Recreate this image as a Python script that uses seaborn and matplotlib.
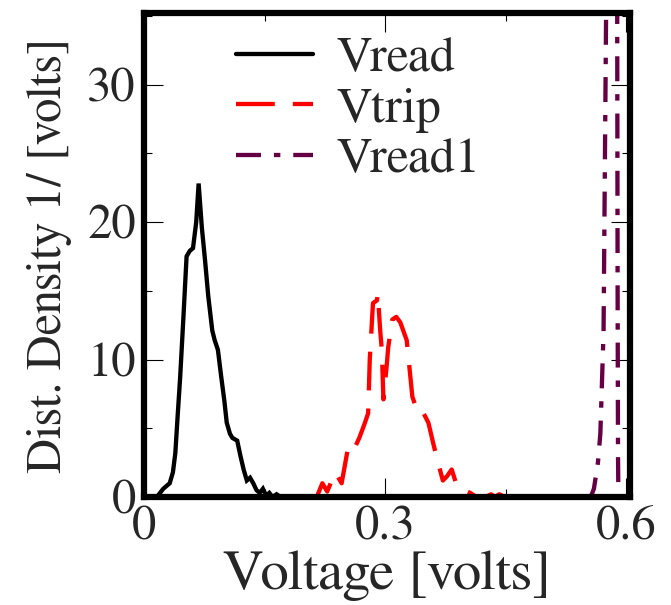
import matplotlib
matplotlib.use("Agg")
import matplotlib.pyplot as plt
import seaborn as sns
import pandas as pd
from matplotlib.ticker import MultipleLocator

# Distribution densities of the read / trip voltages
vread_x = [0.012, 0.016, 0.024, 0.032, 0.036, 0.039, 0.042, 0.045, 0.049, 0.053,
           0.057, 0.061, 0.065, 0.068, 0.072, 0.076, 0.080, 0.085, 0.088, 0.092,
           0.096, 0.100, 0.103, 0.107, 0.110, 0.116, 0.120, 0.124, 0.128, 0.132,
           0.136, 0.140, 0.144, 0.148, 0.152, 0.156, 0.160, 0.165, 0.170]
vread_y = [0.0, 0.0, 0.6, 1.0, 1.8, 3.2, 6.0, 8.7, 13.0, 17.5,
           17.9, 18.1, 20.0, 22.8, 19.6, 17.2, 14.6, 12.1, 11.4, 10.7,
           8.8, 7.0, 5.4, 4.6, 4.3, 4.1, 3.0, 2.0, 1.2, 1.4,
           1.0, 0.5, 0.3, 0.6, 0.1, 0.3, 0.0, 0.2, 0.0]

vtrip_x = [0.208, 0.215, 0.222, 0.228, 0.238, 0.246, 0.254, 0.260, 0.268, 0.275,
           0.279, 0.281, 0.285, 0.290, 0.291, 0.294, 0.296, 0.298, 0.302, 0.304,
           0.309, 0.314, 0.319, 0.327, 0.334, 0.341, 0.347, 0.354, 0.360, 0.366,
           0.372, 0.377, 0.383, 0.390, 0.398, 0.406, 0.414, 0.425, 0.432, 0.437,
           0.442, 0.450]
vtrip_y = [0.0, 0.0, 1.0, 0.4, 1.8, 1.0, 3.6, 3.3, 4.3, 5.4,
           6.1, 10.0, 14.1, 14.3, 14.8, 12.1, 10.7, 7.1, 9.5, 10.9,
           12.9, 13.1, 12.7, 11.4, 7.3, 6.1, 6.2, 5.4, 3.9, 2.5,
           1.2, 1.5, 2.0, 0.7, 0.5, 0.3, 0.0, 0.0, 0.2, 0.0,
           0.2, 0.0]

vread1_x = [0.550, 0.556, 0.560, 0.565, 0.568, 0.572, 0.575, 0.578, 0.582, 0.586,
            0.589, 0.5895, 0.590, 0.5905, 0.595]
vread1_y = [0.0, 0.0, 0.6, 2.5, 4.6, 12.0, 34.0, 55.0, 70.0, 55.0,
            35.0, 15.0, 3.0, 0.0, 0.0]

x_ticks = [0, 0.3, 0.6]
x_tick_labels = ["0", "0.3", "0.6"]
y_ticks = [0, 10, 20, 30]

sns.set_theme(style="ticks")
SERIF = "FreeSerif"
plt.rcParams["font.family"] = "serif"
plt.rcParams["font.serif"] = [SERIF, "Liberation Serif", "DejaVu Serif"]

fig = plt.figure(figsize=(6.71, 6.05), dpi=100)
ax = fig.add_axes([0.2146, 0.1785, 0.7244, 0.8000])

series = [
    ("Vread", vread_x, vread_y, "black", None),
    ("Vtrip", vtrip_x, vtrip_y, "#ff0000", (9.0, 4.2)),
    ("Vread1", vread1_x, vread1_y, "#660044", (5.8, 3.0, 1.5, 3.0)),
]
for name, xs, ys, col, dash in series:
    df = pd.DataFrame({"x": xs, "y": ys})
    sns.lineplot(data=df, x="x", y="y", ax=ax, color=col, linewidth=3.1,
                 label=name, estimator=None, sort=False)
    line = ax.get_lines()[-1]
    if dash is not None:
        line.set_dashes(dash)
    line.set_solid_joinstyle("miter")

ax.set_xlim(0, 0.605)
ax.set_ylim(0, 35.2)
ax.set_xticks(x_ticks)
ax.set_xticklabels(x_tick_labels)
ax.set_yticks(y_ticks)
ax.xaxis.set_minor_locator(MultipleLocator(0.15))
ax.yaxis.set_minor_locator(MultipleLocator(5))

for s in ax.spines.values():
    s.set_linewidth(4.5)
    s.set_color("black")
    s.set_visible(True)

ax.tick_params(which="both", direction="in", top=True, right=True,
               color="black", width=0.8)
ax.tick_params(which="major", length=13.5, labelsize=35, pad=6)
ax.tick_params(which="minor", length=5.8)
for lab in ax.get_xticklabels() + ax.get_yticklabels():
    lab.set_fontfamily(SERIF)

ax.set_xlabel("Voltage [volts]", fontsize=41, labelpad=0, fontfamily=SERIF)
ax.set_ylabel("Dist. Density 1/ [volts]", fontsize=35, labelpad=11, fontfamily=SERIF)

leg = ax.legend(loc="upper left", bbox_to_anchor=(0.189, 0.952), frameon=False,
                prop={"family": SERIF, "size": 36}, handlelength=1.55,
                handletextpad=0.47, labelspacing=0.09, borderpad=0, borderaxespad=0)

fig.savefig("out.png", dpi=100)
